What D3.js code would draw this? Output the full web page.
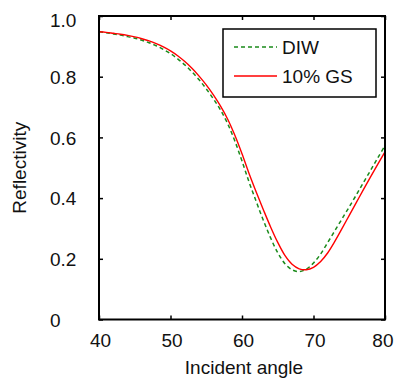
<!DOCTYPE html>
<html>
<head>
<meta charset="utf-8">
<script src="https://cdn.jsdelivr.net/npm/d3@7"></script>
<style>
  body { margin: 0; background: #fff; }
  svg { display: block; font-family: "Liberation Sans", Arial, sans-serif; }
</style>
</head>
<body>
<div id="chart"></div>
<script>
// --- data
const angles = [40, 41, 42, 43, 44, 45, 46, 47, 48, 49, 50, 51, 52, 53, 54, 55, 56, 57, 58, 59, 60,
                61, 62, 63, 64, 65, 66, 67, 68, 69, 70, 71, 72, 73, 74, 75, 76, 77, 78, 79, 80];
const diw = [0.948, 0.945, 0.941, 0.937, 0.932, 0.927, 0.920, 0.912, 0.902, 0.890, 0.876,
             0.859, 0.839, 0.816, 0.790, 0.760, 0.727, 0.690, 0.645, 0.588, 0.522,
             0.452, 0.388, 0.326, 0.269, 0.220, 0.184, 0.164, 0.158, 0.166, 0.186,
             0.216, 0.254, 0.293, 0.332, 0.371, 0.411, 0.452, 0.492, 0.533, 0.573];
const gs10 = [0.948, 0.946, 0.943, 0.940, 0.936, 0.931, 0.925, 0.918, 0.909, 0.898, 0.885,
              0.869, 0.850, 0.828, 0.802, 0.773, 0.740, 0.703, 0.660, 0.607, 0.546,
              0.480, 0.419, 0.361, 0.305, 0.254, 0.211, 0.182, 0.167, 0.164, 0.172,
              0.191, 0.220, 0.258, 0.300, 0.343, 0.386, 0.429, 0.471, 0.512, 0.552];
const seriesNames = ['DIW', '10% GS'];
const xTicks = [40, 50, 60, 70, 80];
const yTicks = [0, 0.2, 0.4, 0.6, 0.8, 1.0];
const yTickLabels = ['0', '0.2', '0.4', '0.6', '0.8', '1.0'];

const width = 394, height = 379;
const margin = { top: 16, right: 9, bottom: 59.5, left: 99 };
const w = width - margin.left - margin.right;
const h = height - margin.top - margin.bottom;
const fontSize = 19;

const svg = d3.select('#chart').append('svg')
    .attr('width', width).attr('height', height);

const g = svg.append('g')
    .attr('transform', `translate(${margin.left},${margin.top})`);

const x = d3.scaleLinear().domain([40, 80]).range([0, w]);
const y = d3.scaleLinear().domain([0, 1]).range([h, 0]);

// --- ticks on all four sides, pointing inward
const tick = 4;
g.append('g').attr('transform', `translate(0,${h})`)
    .call(d3.axisBottom(x).tickValues(xTicks).tickSizeInner(-tick).tickSizeOuter(0).tickPadding(14))
    .call(a => a.select('.domain').remove())
    .call(a => a.selectAll('text')
        .attr('font-size', fontSize).attr('font-family', null).attr('fill', '#111')
        .attr('dx', function (d) {
            // keep the last label inside the picture
            const half = this.getComputedTextLength() / 2;
            const over = margin.left + x(d) + half - (width - 1);
            return over > 0 ? -over : 1;
        }));
g.append('g')
    .call(d3.axisTop(x).tickValues(xTicks).tickSizeInner(-tick).tickSizeOuter(0).tickFormat(''))
    .call(a => a.select('.domain').remove());
g.append('g')
    .call(d3.axisLeft(y).tickValues(yTicks).tickSizeInner(-tick).tickSizeOuter(0)
        .tickFormat((d, i) => yTickLabels[i]))
    .call(a => a.select('.domain').remove())
    .call(a => a.selectAll('text')
        .attr('font-size', fontSize).attr('font-family', null).attr('fill', '#111')
        .attr('text-anchor', 'start').attr('x', -49)
        .attr('dy', '0.35em')
        .attr('y', d => Math.max(y(d), 4) - y(d)));
g.append('g').attr('transform', `translate(${w},0)`)
    .call(d3.axisRight(y).tickValues(yTicks).tickSizeInner(-tick).tickSizeOuter(0).tickFormat(''))
    .call(a => a.select('.domain').remove());
g.selectAll('.tick line').attr('stroke', '#000').attr('stroke-width', 1.5);

// --- curves
const line = d3.line()
    .x((d, i) => x(angles[i]))
    .y(d => y(d))
    .curve(d3.curveCatmullRom.alpha(0.5));

g.append('path').datum(diw)
    .attr('fill', 'none').attr('stroke', '#1a8a1a').attr('stroke-width', 1.5)
    .attr('stroke-dasharray', '4,3')
    .attr('d', line);
g.append('path').datum(gs10)
    .attr('fill', 'none').attr('stroke', '#ff0000').attr('stroke-width', 1.4)
    .attr('d', line);

// --- frame
g.append('rect')
    .attr('width', w).attr('height', h)
    .attr('fill', 'none').attr('stroke', '#000').attr('stroke-width', 2);

// --- axis titles
svg.append('text')
    .attr('x', margin.left + w / 2 + 2).attr('y', 374)
    .attr('text-anchor', 'middle').attr('font-size', fontSize).attr('fill', '#111')
    .text('Incident angle');
svg.append('text')
    .attr('transform', `translate(26,${margin.top + h / 2}) rotate(-90)`)
    .attr('text-anchor', 'middle').attr('font-size', fontSize).attr('fill', '#111')
    .text('Reflectivity');

// --- legend
const legend = svg.append('g').attr('transform', 'translate(223,29)');
legend.append('rect')
    .attr('width', 153).attr('height', 68)
    .attr('fill', '#fff').attr('stroke', '#000').attr('stroke-width', 1.5);
const styles = [
    { color: '#1a8a1a', dash: '4,3', width: 1.5 },
    { color: '#ff0000', dash: null, width: 1.4 }
];
seriesNames.forEach((name, i) => {
    const ly = 18 + i * 29;
    legend.append('line')
        .attr('x1', 11).attr('x2', 54).attr('y1', ly).attr('y2', ly)
        .attr('stroke', styles[i].color).attr('stroke-width', styles[i].width)
        .attr('stroke-dasharray', styles[i].dash);
    legend.append('text')
        .attr('x', 59).attr('y', ly).attr('dy', '0.35em')
        .attr('font-size', fontSize).attr('fill', '#111')
        .text(name);
});
</script>
</body>
</html>
